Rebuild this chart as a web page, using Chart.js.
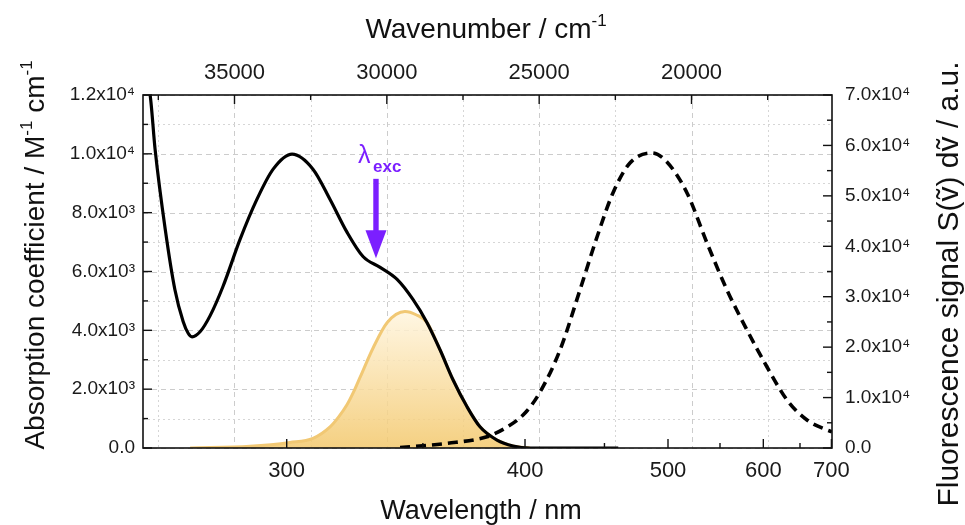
<!DOCTYPE html>
<html>
<head>
<meta charset="utf-8">
<script src="https://cdn.jsdelivr.net/npm/chart.js@4.4.1/dist/chart.umd.min.js"></script>
<style>
  html, body { margin: 0; padding: 0; background: #fff; }
  #wrap { width: 965px; height: 525px; }
</style>
</head>
<body>
<div id="wrap"><canvas id="spectra" width="965" height="525"></canvas></div>
<script>
// absorption spectrum, wavelength (nm) vs molar absorption coefficient
const absWavelength = [260.7, 262.4, 263.6, 266.1, 268.5, 270.6, 271.9, 272.9, 275.0, 277.7, 281.2, 286.0, 290.9, 295.8, 301.7, 308.5, 314.3, 320.3, 326.1, 332.6, 339.3, 345.8, 351.8, 357.5, 363.4, 370.0, 376.3, 384.9, 393.4, 402.8, 430, 460];
const absCoefficient = [12600, 12000, 10160, 7430, 5390, 4300, 3900, 3780, 3950, 4500, 5490, 7090, 8450, 9480, 9990, 9480, 8450, 7330, 6510, 6140, 5730, 5050, 4260, 3340, 2320, 1400, 720, 270, 70, 0, 0, 0];

// lowest absorption band (filled)
const bandWavelength = [272.4, 288.9, 301.0, 308.5, 314.3, 317.3, 320.3, 322.6, 325.0, 329.9, 335.3, 342.5, 347.1, 351.8, 357.5, 363.4, 370.0, 376.3, 384.9, 393.4, 402.8];
const bandCoefficient = [0, 60, 190, 330, 720, 1060, 1480, 1900, 2400, 3400, 4260, 4640, 4530, 4260, 3340, 2320, 1400, 720, 270, 70, 0];

// fluorescence emission (right axis)
const emWavelength = [340.5, 360.7, 379.8, 390.2, 400.0, 408.6, 420.6, 433.3, 444.8, 456.1, 468.8, 486.4, 499.1, 517.2, 536.6, 557.5, 580.1, 604.7, 631.4, 660.5, 692.5, 701];
const emSignal = [100, 930, 2240, 4160, 6940, 11100, 19430, 31330, 41840, 50570, 56520, 58500, 56710, 50570, 40650, 31330, 23400, 16060, 9520, 5550, 3570, 3200];

// axes
const nmTicks = [300, 400, 500, 600, 700];
const nmMinorTicks = [350, 450, 550, 650];
const wnTicks = [35000, 30000, 25000, 20000];
const wnMinorTicks = [37500, 32500, 27500, 22500, 17500];
const absTicks = [0, 2000, 4000, 6000, 8000, 10000, 12000];
const absMinorTicks = [1000, 3000, 5000, 7000, 9000, 11000];
const flTicks = [0, 10000, 20000, 30000, 40000, 50000, 60000, 70000];
const flMinorTicks = [5000, 15000, 25000, 35000, 45000, 55000, 65000];

// excitation marker
const excWavelength = 331;
const excArrowFrom = 9150;
const excArrowTo = 6450;

const FONT = '"Liberation Sans", Arial, Helvetica, sans-serif';
const toWn = nm => 1e7 / nm;
const SUP = { '0': '\u2070', '1': '\u00b9', '2': '\u00b2', '3': '\u00b3', '4': '\u2074', '5': '\u2075', '6': '\u2076', '7': '\u2077', '8': '\u2078', '9': '\u2079' };

function sciLabel(v) {
    if (v === 0) return '0.0';
    const e = Math.floor(Math.log10(v) + 1e-9);
    const m = (v / Math.pow(10, e)).toFixed(1);
    return m + 'x10' + String(e).split('').map(c => SUP[c]).join('');
}

function pairs(xs, ys) {
    return xs.map((w, i) => ({ x: toWn(w), y: ys[i] }));
}

// text with raised parts, e.g. ["cm", ["-1"]]
function drawRich(ctx, parts, size, align) {
    const small = Math.round(size * 0.62);
    let total = 0;
    parts.forEach(p => {
        ctx.font = (Array.isArray(p) ? small : size) + 'px ' + FONT;
        total += ctx.measureText(Array.isArray(p) ? p[0] : p).width;
    });
    let x = align === 'center' ? -total / 2 : 0;
    ctx.textAlign = 'left';
    ctx.textBaseline = 'alphabetic';
    parts.forEach(p => {
        const sup = Array.isArray(p);
        const t = sup ? p[0] : p;
        ctx.font = (sup ? small : size) + 'px ' + FONT;
        ctx.fillText(t, x, sup ? -size * 0.42 : 0);
        x += ctx.measureText(t).width;
    });
}

const framePlugin = {
    id: 'frame',
    beforeDatasetsDraw(chart) {
        const { ctx, chartArea: a, scales } = chart;
        ctx.save();
        ctx.lineWidth = 1;
        const vline = (px, dash, col) => {
            ctx.strokeStyle = col; ctx.setLineDash(dash);
            ctx.beginPath(); ctx.moveTo(Math.round(px) + 0.5, a.top); ctx.lineTo(Math.round(px) + 0.5, a.bottom); ctx.stroke();
        };
        const hline = (py, dash, col) => {
            ctx.strokeStyle = col; ctx.setLineDash(dash);
            ctx.beginPath(); ctx.moveTo(a.left, Math.round(py) + 0.5); ctx.lineTo(a.right, Math.round(py) + 0.5); ctx.stroke();
        };
        wnTicks.forEach(v => vline(scales.x2.getPixelForValue(v), [5, 4], '#cccccc'));
        wnMinorTicks.forEach(v => vline(scales.x2.getPixelForValue(v), [2, 3], '#d6d6d6'));
        absTicks.forEach(v => hline(scales.y.getPixelForValue(v), [5, 4], '#cccccc'));
        absMinorTicks.forEach(v => hline(scales.y.getPixelForValue(v), [2, 3], '#d6d6d6'));
        ctx.restore();
    },
    afterDatasetsDraw(chart) {
        const { ctx, chartArea: a, scales } = chart;
        ctx.save();
        ctx.setLineDash([]);
        ctx.strokeStyle = '#111';
        ctx.lineWidth = 1.6;
        ctx.strokeRect(a.left, a.top, a.right - a.left, a.bottom - a.top);

        ctx.lineWidth = 1.4;
        const tick = (x1, y1, x2, y2) => { ctx.beginPath(); ctx.moveTo(x1, y1); ctx.lineTo(x2, y2); ctx.stroke(); };
        nmTicks.forEach(n => { const p = scales.x.getPixelForValue(toWn(n)); tick(p, a.bottom, p, a.bottom - 9); });
        nmMinorTicks.forEach(n => { const p = scales.x.getPixelForValue(toWn(n)); tick(p, a.bottom, p, a.bottom - 5); });
        wnTicks.forEach(v => { const p = scales.x2.getPixelForValue(v); tick(p, a.top, p, a.top + 9); });
        wnMinorTicks.forEach(v => { const p = scales.x2.getPixelForValue(v); tick(p, a.top, p, a.top + 5); });
        absTicks.forEach(v => { const p = scales.y.getPixelForValue(v); tick(a.left, p, a.left + 9, p); });
        absMinorTicks.forEach(v => { const p = scales.y.getPixelForValue(v); tick(a.left, p, a.left + 5, p); });
        flTicks.forEach(v => { const p = scales.y2.getPixelForValue(v); tick(a.right, p, a.right - 9, p); });
        flMinorTicks.forEach(v => { const p = scales.y2.getPixelForValue(v); tick(a.right, p, a.right - 5, p); });

        // excitation arrow
        const ax = scales.x.getPixelForValue(toWn(excWavelength));
        const y0 = scales.y.getPixelForValue(excArrowFrom);
        const y1 = scales.y.getPixelForValue(excArrowTo);
        ctx.fillStyle = '#7b1fff';
        ctx.fillRect(ax - 2.7, y0, 5.4, (y1 - y0) - 27);
        ctx.beginPath();
        ctx.moveTo(ax - 10.5, y1 - 28);
        ctx.lineTo(ax + 10.5, y1 - 28);
        ctx.lineTo(ax, y1);
        ctx.closePath();
        ctx.fill();
        ctx.textAlign = 'left';
        ctx.textBaseline = 'alphabetic';
        ctx.font = '25px ' + FONT;
        ctx.fillText('\u03bb', ax - 18, y0 - 16);
        ctx.font = 'bold 17px ' + FONT;
        ctx.fillText('exc', ax - 3, y0 - 7);

        // axis titles
        ctx.fillStyle = '#111';
        ctx.save();
        ctx.translate(486, 38);
        drawRich(ctx, ['Wavenumber / cm', ['-1']], 28, 'center');
        ctx.restore();

        ctx.save();
        ctx.translate(481, 519);
        drawRich(ctx, ['Wavelength / nm'], 27, 'center');
        ctx.restore();

        ctx.save();
        ctx.translate(44, 255);
        ctx.rotate(-Math.PI / 2);
        drawRich(ctx, ['Absorption coefficient / M', ['-1'], ' cm', ['-1']], 28, 'center');
        ctx.restore();

        ctx.save();
        ctx.translate(958, 284);
        ctx.rotate(-Math.PI / 2);
        drawRich(ctx, ['Fluorescence signal S(\u1e7d) d\u1e7d / a.u.'], 30, 'center');
        ctx.restore();

        ctx.restore();
    }
};

const axisBase = {
    type: 'linear',
    grid: { display: false, drawTicks: false },
    border: { display: false }
};

new Chart(document.getElementById('spectra'), {
    type: 'line',
    data: {
        datasets: [
            {
                label: 'Absorption',
                data: pairs(absWavelength, absCoefficient),
                xAxisID: 'x', yAxisID: 'y',
                borderColor: '#000', borderWidth: 3.2,
                pointRadius: 0, fill: false,
                cubicInterpolationMode: 'monotone'
            },
            {
                label: 'Fluorescence',
                data: pairs(emWavelength, emSignal),
                xAxisID: 'x', yAxisID: 'y2',
                borderColor: '#000', borderWidth: 3.6,
                borderDash: [10, 6],
                pointRadius: 0, fill: false,
                cubicInterpolationMode: 'monotone'
            },
            {
                label: 'S0-S1 band',
                data: pairs(bandWavelength, bandCoefficient),
                xAxisID: 'x', yAxisID: 'y',
                borderColor: '#f1c874', borderWidth: 3,
                pointRadius: 0, fill: 'origin',
                cubicInterpolationMode: 'monotone',
                backgroundColor: (c) => {
                    const chart = c.chart;
                    if (!chart.chartArea) return 'rgba(245,205,120,0.5)';
                    const ys = chart.scales.y;
                    const g = chart.ctx.createLinearGradient(0, ys.getPixelForValue(Math.max(...bandCoefficient)), 0, ys.getPixelForValue(0));
                    g.addColorStop(0, 'rgba(255,245,222,0.85)');
                    g.addColorStop(1, 'rgba(243,200,108,0.85)');
                    return g;
                }
            }
        ]
    },
    options: {
        responsive: false,
        animation: false,
        devicePixelRatio: 1,
        layout: { padding: 0 },
        plugins: { legend: { display: false }, tooltip: { enabled: false } },
        scales: {
            x: {
                ...axisBase, position: 'bottom', reverse: true,
                min: toWn(701), max: toWn(260.7),
                afterBuildTicks: s => { s.ticks = nmTicks.map(n => ({ value: toWn(n) })); },
                afterFit: s => { s.height = 77; },
                ticks: { callback: v => String(Math.round(1e7 / v)), font: { family: FONT, size: 22 }, color: '#1a1a1a', padding: 10, autoSkip: false, maxRotation: 0 }
            },
            x2: {
                ...axisBase, position: 'top', reverse: true,
                min: 15389, max: 38003,
                afterBuildTicks: s => { s.ticks = wnTicks.map(v => ({ value: v })); },
                afterFit: s => { s.height = 95; },
                ticks: { callback: v => String(v), font: { family: FONT, size: 22 }, color: '#1a1a1a', padding: 9, autoSkip: false, maxRotation: 0 }
            },
            y: {
                ...axisBase, position: 'left',
                min: 0, max: 12000,
                afterBuildTicks: s => { s.ticks = absTicks.map(v => ({ value: v })); },
                afterFit: s => { s.width = 143; },
                ticks: { callback: v => sciLabel(v), font: { family: FONT, size: 19 }, color: '#1a1a1a', padding: 8, autoSkip: false }
            },
            y2: {
                ...axisBase, position: 'right',
                min: 0, max: 70000,
                afterBuildTicks: s => { s.ticks = flTicks.map(v => ({ value: v })); },
                afterFit: s => { s.width = 133; },
                ticks: { callback: v => sciLabel(v), font: { family: FONT, size: 19 }, color: '#1a1a1a', padding: 13, autoSkip: false }
            }
        }
    },
    plugins: [framePlugin]
});
</script>
</body>
</html>
